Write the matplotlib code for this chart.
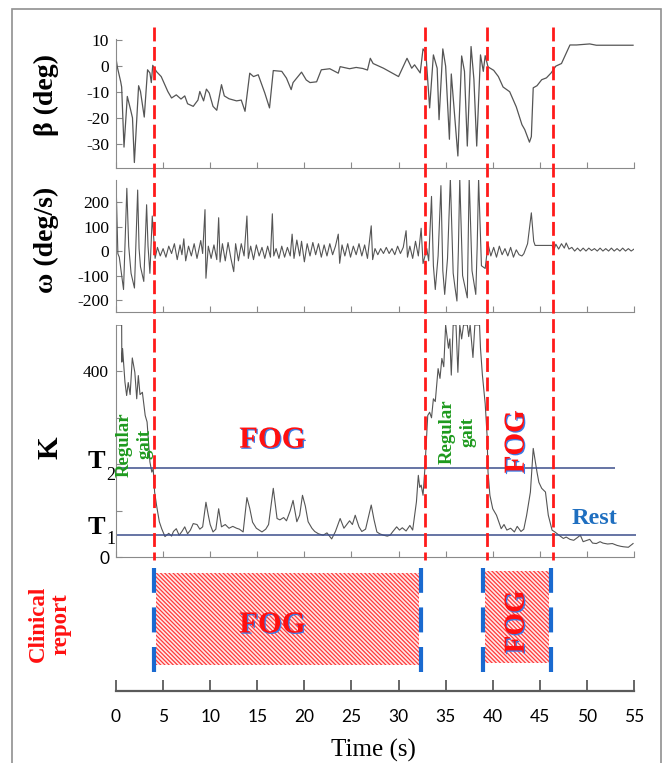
import numpy as np
import matplotlib.pyplot as plt
import matplotlib.patheffects as pe
from matplotlib.patches import Rectangle

plt.rcParams['font.family'] = ['Liberation Serif', 'DejaVu Serif']
plt.rcParams['hatch.linewidth'] = 0.9
plt.rcParams['axes.unicode_minus'] = False

# ---- traces (time in s) ----
beta_t = [0.0, 0.15, 0.5, 0.6, 0.85, 1.2, 1.55, 1.75, 1.95, 2.4, 2.6, 3.0, 3.35, 3.6, 3.75, 3.9,
          4.3, 4.8, 5.5, 5.9, 6.4, 6.9, 7.3, 7.6, 8.2, 8.7, 8.9, 9.3, 9.6, 9.9, 10.3, 10.7,
          11.2, 11.5, 12.0, 12.8, 13.3, 13.7, 14.2, 14.6, 15.1, 15.8, 16.3, 16.7, 17.6, 18.1,
          18.6, 18.8, 19.7, 20.2, 20.6, 21.3, 21.8, 22.7, 23.6, 23.8, 24.8, 25.5, 26.2, 26.7,
          27.0, 27.3, 28.4, 30.0, 30.9, 31.4, 31.7, 32.3, 32.6, 32.9, 33.3, 33.7, 34.1, 34.3,
          34.7, 35.0, 35.4, 35.6, 36.3, 36.7, 37.0, 37.3, 37.7, 38.0, 38.3, 38.7, 39.0, 39.2,
          39.5, 40.1, 40.6, 41.1, 41.8, 42.5, 43.1, 43.4, 43.9, 44.1, 44.3, 44.7, 45.2, 45.7,
          46.2, 46.7, 47.3, 48.2, 48.9, 50.3, 51.0, 54.9]
beta = [3.0, -0.5, -6, -8, -31, -11.6, -16.7, -19.8, -36.9, -7.5, -9.7, -19.5, -1.4, -2.6, -6.3, 0.3,
        -2.1, -4, -9.7, -12.2, -11, -12.6, -11.4, -14.4, -15.4, -13, -9.7, -13.3, -8.8, -10.3, -15.4, -16.9,
        -7.1, -11.4, -12.5, -13.3, -13, -17.3, -2.7, -4, -3.3, -10.3, -16, -1.7, -2, -4.6,
        -9, -6.3, -2.3, -5.3, -6.3, -6, -1.4, -1, -2.7, -0.2, -1, -0.5, -0.9, -1.5,
        3.0, 1.0, -0.8, -4, 3, -0.8, 0.5, -2.6, 6.6, 5, -16, 4.3, -0.8, -20.5,
        6.6, 0, -28, -3, -34.4, 3.9, -2, -30.6, 7.5, -5, -30.6, 4.3, -2, 4,
        -0.3, -1.6, -4, -8, -9.8, -15.6, -22.4, -24.3, -29.1, -27, -8.3, -7.5, -5.2, -4.5,
        -2.6, 0, 1, 8.1, 8.1, 8.5, 8, 8]

omega_t = [0.0, 0.2, 0.35, 0.8, 1.15, 1.35, 1.6, 1.96, 2.3, 2.45, 2.6, 2.95, 3.25, 3.4, 3.6, 3.85,
           4.05, 4.15, 4.4, 4.7, 5.0, 5.3, 5.6, 5.9, 6.2, 6.5, 6.8, 7.0, 7.2, 7.4, 7.7, 8.0,
           8.3, 8.6, 9.0, 9.2, 9.45, 9.55, 9.8, 10.1, 10.4, 10.7, 10.9, 11.05, 11.3, 11.6, 11.9,
           12.2, 12.5, 12.7, 13.0, 13.3, 13.6, 13.9, 14.05, 14.3, 14.6, 14.9, 15.2, 15.5, 15.8,
           16.1, 16.4, 16.6, 16.75, 17.0, 17.3, 17.6, 17.9, 18.2, 18.5, 18.7, 18.9, 19.2, 19.5,
           19.7, 20.0, 20.3, 20.6, 20.9, 21.2, 21.5, 21.8, 22.1, 22.4, 22.7, 23.0, 23.3, 23.6,
           23.75, 24.0, 24.3, 24.6, 24.9, 25.2, 25.5, 25.8, 26.1, 26.4, 26.7, 27.1, 27.25, 27.5,
           27.8, 28.1, 28.4, 28.7, 29.0, 29.3, 29.6, 29.9, 30.2, 30.5, 30.8, 30.95, 31.2, 31.5,
           31.8, 32.1, 32.4, 32.6, 33.0, 33.2, 33.5, 33.7, 33.9, 34.2, 34.5, 34.7, 34.9, 35.2,
           35.5, 35.8, 36.0, 36.2, 36.35, 36.5, 36.8, 37.3, 37.4, 37.5, 37.8, 38.2, 38.35, 38.5,
           38.8, 39.2, 39.5, 39.8, 40.1, 40.4, 40.7, 41.0, 41.3, 41.6, 41.9, 42.2, 42.5, 42.8,
           43.1, 43.3, 43.7, 44.1, 44.35, 44.5, 46.3, 46.5, 46.7, 47.0, 47.3, 47.6, 47.8, 48.1,
           48.4, 48.7, 49.0, 49.3, 49.6, 49.9, 50.2, 50.5, 50.8, 51.1, 51.4, 51.7, 52.0, 52.3,
           52.6, 52.9, 53.2, 53.5, 53.8, 54.1, 54.4, 54.7, 55.0]
omega = [289, -11, -25, -157, 256, 20, -91, -151, 249, 10, -64, -124, 189, 20, -91, 143,
         23, -30, 15, -20, 10, -25, 20, -10, 30, -35, 25, -15, 50, -40, 20, -20,
         30, -30, 43, -10, 169, -111, 20, -30, 25, -35, 136, -45, 30, -40, 35,
         -30, -84, 30, -40, 30, -20, 143, -30, 20, -35, 25, -20, 15, -30,
         20, -25, 152, -20, 10, -30, 20, -25, 15, -20, 69, -30, 45, -20,
         40, -44, 30, -20, 35, -15, 30, -25, 25, -20, 30, -15, 20, 69,
         -50, 25, -20, 30, -25, 20, -15, 30, -20, 25, -30, 103, -35, 10,
         -15, 10, -10, 15, -10, 10, -15, 20, -10, 15, 83, -25, 20, -30,
         40, -20, 93, -51, 10, -40, 223, -60, -157, -20, 267, -80, -177, -30,
         296, -90, -150, -204, 0, 296, -100, -191, 40, 296, -80, -177, 20, 296,
         -60, -71, 29, -20, 15, -25, 20, -15, 10, -20, 15, -25, 5, -15,
         -20, -11, 30, 156, 40, 23, 23, 5, 28, 8, 30, 12, 33, 8,
         15, 0, 12, 0, 12, 0, 12, 2, 10, 0, 12, 0, 10, 0,
         12, 0, 10, 0, 12, 0, 10, 0, 8]

k_t = [0.0, 0.02, 0.6, 0.62, 0.7, 0.95, 1.13, 1.3, 1.5, 1.73, 2.0, 2.2, 2.37, 2.55, 2.8, 3.1,
       3.3, 3.43, 3.6, 3.8, 3.95, 4.1, 4.3, 4.6, 4.85, 5.2, 5.6, 5.9, 6.1, 6.4, 6.7, 7.0,
       7.3, 7.6, 7.9, 8.2, 8.6, 8.9, 9.2, 9.55, 9.8, 10.0, 10.3, 10.6, 10.9, 11.2, 11.6,
       12.0, 12.4, 12.8, 13.1, 13.5, 13.9, 14.2, 14.5, 14.9, 15.2, 15.5, 15.9, 16.2, 16.7,
       17.1, 17.4, 17.8, 18.1, 18.5, 18.8, 19.2, 19.5, 19.8, 20.1, 20.4, 20.8, 21.1, 21.5,
       22.0, 22.4, 22.9, 23.3, 23.8, 24.2, 24.5, 24.8, 25.1, 25.4, 25.8, 26.1, 26.5, 27.1,
       27.4, 27.7, 28.0, 28.4, 28.8, 29.1, 29.4, 29.8, 30.1, 30.4, 30.8, 31.2, 31.5, 31.9,
       32.1, 32.25, 32.4, 32.6, 32.8, 33.1, 33.3, 33.5, 33.7, 33.9, 34.1, 34.2, 34.4, 34.6,
       34.8, 35.0, 35.3, 35.45, 35.6, 35.8, 36.1, 36.3, 36.5, 36.7, 36.9, 37.3, 37.45, 37.6,
       37.9, 38.1, 38.6, 38.7, 38.9, 39.2, 39.4, 39.5, 39.7, 40.0, 40.4, 40.9, 41.2, 41.5,
       41.9, 42.3, 42.6, 43.0, 43.3, 43.6, 44.0, 44.3, 44.7, 44.9, 45.2, 45.6, 45.9, 46.3,
       46.6, 47.1, 47.5, 47.8, 48.2, 48.6, 49.0, 49.3, 49.6, 50.0, 50.3, 50.6, 51.0, 51.4,
       51.7, 52.2, 52.7, 53.2, 53.6, 53.9, 54.4, 54.9]
k_val = [375, 500, 500, 420, 449, 377, 348, 376, 350, 429, 398, 341, 391, 350, 355, 305,
         291, 255, 205, 183, 190, 140, 112, 76, 61, 44, 51, 45, 55, 61, 47, 55,
         65, 50, 58, 72, 70, 60, 65, 118, 90, 70, 54, 60, 104, 65, 70,
         62, 66, 62, 60, 54, 128, 105, 75, 62, 58, 54, 60, 70, 148,
         83, 80, 85, 78, 100, 122, 76, 90, 133, 110, 76, 62, 55, 50,
         47, 52, 39, 55, 83, 62, 70, 78, 70, 90, 65, 55, 60, 112,
         80, 54, 50, 47, 45, 47, 55, 65, 58, 63, 56, 68, 58, 119,
         176, 150, 155, 133, 192, 305, 312, 300, 341, 335, 384, 406, 385, 428,
         410, 500, 450, 470, 392, 500, 500, 398, 500, 470, 500, 500, 475, 500,
         430, 500, 500, 450, 393, 330, 262, 183, 133, 104, 90, 61, 70, 58,
         62, 54, 66, 55, 60, 90, 140, 234, 183, 161, 148, 140, 90, 58,
         54, 46, 40, 43, 38, 36, 42, 47, 33, 36, 38, 30, 29, 33,
         30, 28, 29, 25, 23, 22, 21, 29]

T1, T2 = 47, 191
events = [4.0, 32.8, 39.4, 46.4]              # red dashed markers
clinical_fog = [(4.05, 32.4), (39.0, 46.2)]   # clinically reported FOG
time_ticks = list(range(0, 60, 5))

W, H = 663, 763
fig = plt.figure(figsize=(W / 100, H / 100), dpi=100)


def box(x0, y0, x1, y1):
    return [x0 / W, 1 - y1 / H, (x1 - x0) / W, (y1 - y0) / H]


def px(x, y):
    return x / W, 1 - y / H


gray = '#8a8a8a'
trace = '#555555'
red = '#ff1010'
shadow = [pe.withSimplePatchShadow(offset=(0.9, -0.9), shadow_rgbFace='#3a7ae8', alpha=1)]


def style(ax):
    ax.spines[['top', 'right']].set_visible(False)
    ax.spines[['left', 'bottom']].set_color(gray)
    ax.set_xlim(0, 55)
    ax.set_xticks(time_ticks)
    ax.tick_params(axis='x', direction='in', length=4, color=gray, labelbottom=False)
    ax.tick_params(axis='y', direction='in', length=4, color=gray, labelsize=12.5, pad=5)
    ax.patch.set_alpha(0)


ax1 = fig.add_axes(box(116, 38.7, 634, 168))
ax2 = fig.add_axes(box(116, 180, 634, 312.3))
ax3 = fig.add_axes(box(116, 325, 634, 557))
ax4 = fig.add_axes(box(116, 560, 634, 691))

for ax in (ax1, ax2, ax3):
    style(ax)

ax1.plot(beta_t, beta, color=trace, lw=0.9)
ax1.set_ylim(-39, 10.5)
ax1.set_yticks([-30, -20, -10, 0, 10])

ax2.plot(omega_t, omega, color=trace, lw=0.8)
ax2.set_ylim(-250, 290)
ax2.set_yticks([-200, -100, 0, 100, 200])

ax3.plot(k_t, k_val, color=trace, lw=0.8)
ax3.set_ylim(0, 500)
ax3.set_yticks([0, 100, 200, 300, 400])
ax3.set_yticklabels(['0', '', '', '', '400'])
ax3.get_yticklabels()[0].set_fontfamily('Lato')
ax3.hlines(T2, 0, 53, color='#3c4e8c', lw=1.1)
ax3.hlines(T1, 0, 55.2, color='#3c4e8c', lw=1.1, clip_on=False)

ax3.text(16.6, 252, 'FOG', ha='center', va='center', fontsize=22, fontweight='bold',
         color=red, path_effects=shadow)
ax3.text(42.5, 248, 'FOG', ha='center', va='center', fontsize=21, fontweight='bold',
         color=red, rotation=90, path_effects=shadow)
ax3.text(50.8, 84, 'Rest', ha='center', va='center', fontsize=17.5, fontweight='bold',
         color='#1f6fc0')
for t, k in [(2.0, 243), (36.3, 269)]:
    ax3.text(t, k, 'Regular\ngait', ha='center', va='center', rotation=90, fontsize=13.5,
             fontweight='bold', color='#1e9a1e', linespacing=1.3, multialignment='center')

# clinical report panel with time axis
ax4.spines[['top', 'right', 'left']].set_visible(False)
ax4.spines['bottom'].set_color('#5a5a5a')
ax4.spines['bottom'].set_linewidth(1.6)
ax4.set_xlim(0, 55)
ax4.set_ylim(0, 1)
ax4.set_yticks([])
ax4.set_xticks(time_ticks)
ax4.tick_params(axis='x', direction='in', length=8, width=1.3, color='#5a5a5a', pad=13,
                labelsize=12.5, labelfontfamily='Lato')
ax4.patch.set_alpha(0)

for (s, e), (y0, y1) in zip(clinical_fog, [(0.198, 0.90), (0.214, 0.916)]):
    ax4.axvspan(s + 0.15, e - 0.2, ymin=y0, ymax=y1, facecolor='#ffe8e8',
                edgecolor='#ff3a3a', hatch='\\\\\\\\\\\\\\\\', lw=0)
    ax4.vlines([s, e], 0.145, 0.939, colors='#1a6ad0', lw=3, linestyles=(0, (6, 3.5)))

ax4.text(16.6, 0.504, 'FOG', ha='center', va='center', fontsize=22, fontweight='bold',
         color=red, path_effects=shadow)
ax4.text(42.5, 0.527, 'FOG', ha='center', va='center', fontsize=21, fontweight='bold',
         color=red, rotation=90, path_effects=shadow)

# axis labels placed on the figure
fig.text(*px(46, 95), 'β (deg)', rotation=90, ha='center', va='center', fontsize=20,
         fontweight='bold')
fig.text(*px(46, 240), 'ω (deg/s)', rotation=90, ha='center', va='center', fontsize=20,
         fontweight='bold')
fig.text(*px(50, 448), 'K', rotation=90, ha='center', va='center', fontsize=21,
         fontweight='bold')
fig.text(*px(96, 462), 'T', ha='center', va='center', fontsize=19, fontweight='bold')
fig.text(*px(110.5, 475), '2', ha='center', va='center', fontsize=13)
fig.text(*px(96, 527), 'T', ha='center', va='center', fontsize=19, fontweight='bold')
fig.text(*px(110.5, 539), '1', ha='center', va='center', fontsize=13)
fig.text(*px(50, 624), 'Clinical\nreport', rotation=90, ha='center', va='center',
         fontsize=16.5, fontweight='bold', color=red, linespacing=1.1,
         multialignment='center')
fig.text(*px(373, 750), 'Time (s)', ha='center', va='center', fontsize=18)

# red dashed event markers across the stacked panels
ov = fig.add_axes(box(116, 0, 634, H))
ov.set_xlim(0, 55)
ov.set_ylim(H, 0)
ov.axis('off')
ov.vlines(events, 27, 560, colors='#ff1a1a', lw=2, linestyles=(0, (5, 2)))

fig.add_artist(Rectangle(px(12, H + 5), (661 - 12) / W, (H - 4) / H, transform=fig.transFigure,
                         fill=False, edgecolor='#909090', lw=1.2))

fig.savefig('out.png', dpi=100)
